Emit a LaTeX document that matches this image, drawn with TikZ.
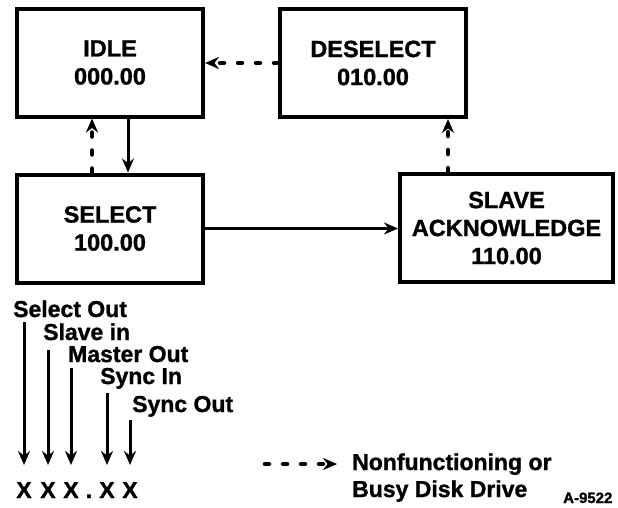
\documentclass[tikz,border=0pt]{standalone}
\usepackage{fontspec}
\setmainfont{Liberation Sans}[BoldFeatures={FakeBold=1.2}]
\usetikzlibrary{arrows.meta}
\begin{document}
\begin{tikzpicture}[x=1pt,y=-1pt,
  box/.style={draw, line width=4pt, minimum width=186pt, minimum height=108pt, inner sep=0pt, align=center, font=\fontsize{23.5}{28}\selectfont\bfseries},
  solidarr/.style={line width=3pt, -{Stealth[length=14pt,width=12pt]}},
  dasharr/.style={line width=4.5pt, line cap=round, dash pattern=on 4pt off 14pt, -{Stealth[length=14pt,width=12pt]}},
  lab/.style={font=\fontsize{23}{27}\selectfont\bfseries, anchor=base west, inner sep=0pt},
  bit/.style={font=\fontsize{23}{27}\selectfont\bfseries, inner sep=0pt, anchor=base}
]
\useasboundingbox (0,0) rectangle (618,507);

\node[box] (idle) at (110,62.5) {IDLE\\000.00};
\node[box] (desel) at (373,63) {DESELECT\\010.00};
\node[box] (select) at (110,228.5) {SELECT\\100.00};
\node[box, minimum width=213pt] (slave) at (506.5,228) {SLAVE\\ACKNOWLEDGE\\110.00};

\draw[solidarr] ([xshift=18pt]idle.south) -- ([xshift=18pt]idle.south |- select.north);
\draw[dasharr] ([xshift=-18pt]select.north) -- ([xshift=-18pt]select.north |- idle.south);
\draw[dasharr] (desel.west) -- (desel.west -| idle.east);
\draw[dasharr] ([xshift=-58.5pt]slave.north) -- ([xshift=-58.5pt]slave.north |- desel.south);
\draw[solidarr] (select.east) -- (select.east -| slave.west);

% bit labels
\node[lab] (l1) at (13,317) {Select Out};
\node[lab] (l2) at (43,340) {Slave in};
\node[lab] (l3) at (68,362) {Master Out};
\node[lab] (l4) at (100,384) {Sync In};
\node[lab] (l5) at (132,412) {Sync Out};

\node[bit] (x1) at (24,498) {X};
\node[bit] (x2) at (48,498) {X};
\node[bit] (x3) at (71,498) {X};
\node[bit] (dot) at (89,498) {.};
\node[bit] (x4) at (107,498) {X};
\node[bit] (x5) at (130,498) {X};

\draw[solidarr, shorten <=5pt, shorten >=17pt] (x1 |- l1.base) -- (x1.north);
\draw[solidarr, shorten <=10pt, shorten >=17pt] (x2 |- l2.base) -- (x2.north);
\draw[solidarr, shorten <=6pt, shorten >=17pt] (x3 |- l3.base) -- (x3.north);
\draw[solidarr, shorten <=9pt, shorten >=17pt] (x4 |- l4.base) -- (x4.north);
\draw[solidarr, shorten <=8pt, shorten >=17pt] (x5 |- l5.base) -- (x5.north);

% legend
\node[lab] (leg1) at (352,470) {Nonfunctioning or};
\node[lab] (leg2) at (352,497) {Busy Disk Drive};
\coordinate (legstart) at (265,464);
\draw[dasharr] (legstart) -- (legstart -| 337,0);
\node[font=\fontsize{15}{17}\selectfont\bfseries, anchor=base west, inner sep=0pt] (fig) at (563,503) {A-9522};
\end{tikzpicture}
\end{document}
